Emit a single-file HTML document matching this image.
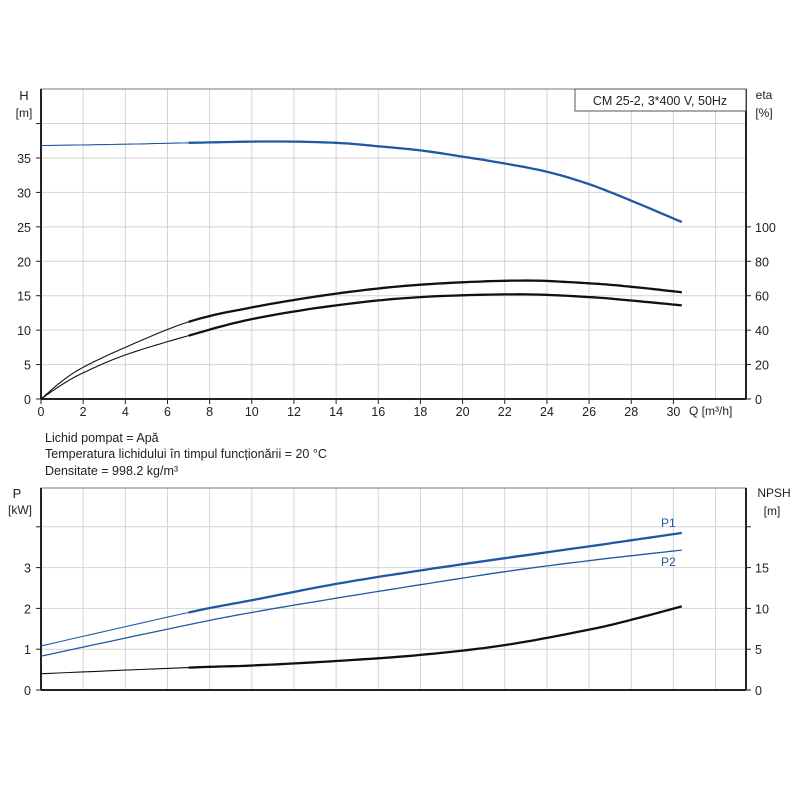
<!DOCTYPE html>
<html><head><meta charset="utf-8"><style>
body{margin:0;background:#fff;}
svg text{font-family:"Liberation Sans",sans-serif;fill:#222;}
</style></head><body>
<svg id="s" width="800" height="800" xmlns="http://www.w3.org/2000/svg">
<rect width="800" height="800" fill="#fff"/>
<g id="g"></g>
<text x="45" y="442" font-size="12.5">Lichid pompat = Apă</text>
<text x="45" y="458" font-size="12.5">Temperatura lichidului în timpul funcționării = 20 °C</text>
<text x="45" y="475" font-size="12.5">Densitate = 998.2 kg/m³</text>
<text x="24" y="100" font-size="13" text-anchor="middle">H</text>
<text x="24" y="117" font-size="12" text-anchor="middle">[m]</text>
<text x="764" y="99" font-size="12" text-anchor="middle">eta</text>
<text x="764" y="117" font-size="12" text-anchor="middle">[%]</text>
<text x="17" y="498" font-size="13" text-anchor="middle">P</text>
<text x="20" y="514" font-size="12" text-anchor="middle">[kW]</text>
<text x="774" y="497" font-size="12" text-anchor="middle">NPSH</text>
<text x="772" y="515" font-size="12" text-anchor="middle">[m]</text>
<rect x="575" y="89" width="171" height="22" fill="#fff" stroke="#555" stroke-width="1"/>
<text x="660" y="105" font-size="12.5" text-anchor="middle">CM 25-2, 3*400 V, 50Hz</text>
<text x="689" y="415" font-size="12">Q [m³/h]</text>
<text x="661" y="527" font-size="12" style="fill:#1f5aa0">P1</text>
<text x="661" y="566" font-size="12" style="fill:#1f5aa0">P2</text>
</svg>
<script>
var g=document.getElementById('g'),h='';
var X=q=>41+q*21.08;
var T=v=>399-v*6.886; var B=v=>690-v*40.8;
for(var i=1;i<=16;i++)h+=`<line x1="${X(2*i)}" y1="89" x2="${X(2*i)}" y2="399" stroke="#d4d4d4"/>`;
for(var v=5;v<=40;v+=5)h+=`<line x1="41" y1="${T(v)}" x2="746" y2="${T(v)}" stroke="#d4d4d4"/>`;
for(var i=1;i<=16;i++)h+=`<line x1="${X(2*i)}" y1="488" x2="${X(2*i)}" y2="690" stroke="#d4d4d4"/>`;
for(var v=1;v<=4;v++)h+=`<line x1="41" y1="${B(v)}" x2="746" y2="${B(v)}" stroke="#d4d4d4"/>`;
h+=`<path d="M41,89H746V399H41Z" fill="none" stroke="#777"/><line x1="41" y1="89" x2="41" y2="399" stroke="#222" stroke-width="2"/><line x1="746" y1="89" x2="746" y2="399" stroke="#222" stroke-width="2"/><line x1="41" y1="399" x2="746" y2="399" stroke="#222" stroke-width="2"/>`;
h+=`<path d="M41,488H746V690H41Z" fill="none" stroke="#777"/><line x1="41" y1="488" x2="41" y2="690" stroke="#222" stroke-width="2"/><line x1="746" y1="488" x2="746" y2="690" stroke="#222" stroke-width="2"/><line x1="41" y1="690" x2="746" y2="690" stroke="#222" stroke-width="2"/>`;
for(var i=0;i<=15;i++){h+=`<line x1="${X(2*i)}" y1="399" x2="${X(2*i)}" y2="404" stroke="#222"/><text x="${X(2*i)}" y="416" font-size="12.5" text-anchor="middle">${2*i}</text>`;}
for(var v=0;v<=40;v+=5){h+=`<line x1="36" y1="${T(v)}" x2="41" y2="${T(v)}" stroke="#222"/>`;if(v<40)h+=`<text x="31" y="${T(v)+5}" font-size="12.5" text-anchor="end">${v}</text>`;}
for(var e=0;e<=100;e+=20){var y=T(e/4);h+=`<line x1="746" y1="${y}" x2="751" y2="${y}" stroke="#222"/><text x="755" y="${y+5}" font-size="12.5">${e}</text>`;}
for(var v=0;v<=4;v++){h+=`<line x1="36" y1="${B(v)}" x2="41" y2="${B(v)}" stroke="#222"/><line x1="746" y1="${B(v)}" x2="751" y2="${B(v)}" stroke="#222"/>`;if(v<4)h+=`<text x="31" y="${B(v)+5}" font-size="12.5" text-anchor="end">${v}</text>`;}
for(var n=0;n<=15;n+=5){h+=`<text x="755" y="${B(n/5)+5}" font-size="12.5">${n}</text>`;}
function dens(p){var o=[];for(var i=0;i<p.length-1;i++){var p0=p[Math.max(i-1,0)],p1=p[i],p2=p[i+1],p3=p[Math.min(i+2,p.length-1)];for(var k=0;k<12;k++){var t=k/12,t2=t*t,t3=t2*t;var f=(a,b,c,d)=>0.5*((2*b)+(-a+c)*t+(2*a-5*b+4*c-d)*t2+(-a+3*b-3*c+d)*t3);o.push([f(p0[0],p1[0],p2[0],p3[0]),f(p0[1],p1[1],p2[1],p3[1])]);}}o.push(p[p.length-1]);return o;}
function path(pts,f,c,w,q0,q1){var s='';pts.filter(p=>p[0]>=q0&&p[0]<=q1).forEach((p,i)=>s+=(i?'L':'M')+X(p[0]).toFixed(1)+','+f(p[1]).toFixed(1));return `<path d="${s}" fill="none" stroke="${c}" stroke-width="${w}" stroke-linejoin="round"/>`;}
function curve(pts,f,c){pts=dens(pts);return path(pts,f,c,1.1,0,7.05)+path(pts,f,c,2.3,6.95,31);}
var H=[[0,36.8],[4,37],[7,37.2],[11,37.4],[14,37.2],[16,36.7],[18,36.1],[20,35.2],[22,34.2],[24,33],[26,31.2],[28,28.8],[30.4,25.7]];
var E1=[[0,0],[1,2.6],[2,4.6],[4,7.5],[7,11.2],[10,13.3],[14,15.3],[18,16.6],[22.7,17.2],[26,16.8],[28,16.3],[30.4,15.5]];
var E2=[[0,0],[1,2.1],[2,3.8],[4,6.4],[7,9.2],[10,11.6],[14,13.6],[18,14.8],[22.7,15.2],[26,14.8],[28,14.3],[30.4,13.6]];
var P1=[[0,1.08],[7,1.9],[10,2.2],[14,2.6],[18,2.93],[22,3.23],[26,3.52],[30.4,3.85]];
var P2=[[0,0.83],[7,1.6],[10,1.9],[14,2.25],[18,2.58],[22,2.9],[26,3.17],[30.4,3.43]];
var N=[[0,0.4],[7,0.55],[10,0.6],[14,0.71],[18,0.86],[22,1.1],[26,1.48],[28,1.72],[30.4,2.05]];
h+=curve(E1,T,'#111')+curve(E2,T,'#111')+curve(H,T,'#1f5aa0');
h+=curve(P1,B,'#1f5aa0')+path(dens(P2),B,'#1f5aa0',1.3,0,31)+curve(N,B,'#111');
g.innerHTML=h;
</script>
</body></html>
